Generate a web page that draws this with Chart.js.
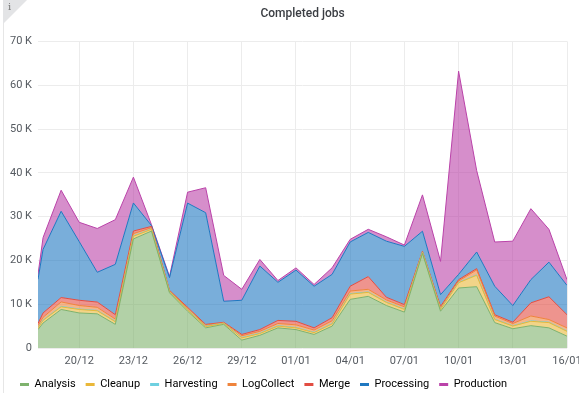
<!DOCTYPE html>
<html>
<head>
<meta charset="utf-8">
<title>Completed jobs</title>
<script src="https://cdn.jsdelivr.net/npm/chart.js@4.4.1/dist/chart.umd.min.js"></script>
<style>
  html, body { margin: 0; padding: 0; background: #fff; }
  .panel { position: relative; width: 579px; height: 393px; overflow: hidden; }
  .panel canvas { position: absolute; left: 0; top: 0; }
  .panel .edge { position: absolute; left: 3px; top: 0; bottom: 0; border-left: 1px solid #e6e6e6; }
  .panel .corner {
    position: absolute; left: 3px; top: 0; width: 0; height: 0;
    border-top: 24px solid #e3e4e6; border-right: 24px solid transparent;
  }
  .panel .corner span {
    position: absolute; left: 5px; top: -23px;
    font: 10px "DejaVu Serif", serif; color: #777;
  }
</style>
</head>
<body>
<div class="panel">
  <canvas id="jobsChart" width="579" height="393"></canvas>
  <div class="edge"></div>
  <div class="corner"><span>i</span></div>
</div>
<script>
// days after 20/12; the first sample is a partial day
const sampleDays = [-2.28, -2, -1, 0, 1, 2, 3, 4, 5, 6, 7, 8, 9, 10, 11, 12, 13,
  14, 15, 16, 17, 18, 19, 20, 21, 22, 23, 24, 25, 26, 27];

const tickDays = [0, 3, 6, 9, 12, 15, 18, 21, 24, 27];
const tickLabels = ["20/12", "23/12", "26/12", "29/12", "01/01", "04/01", "07/01", "10/01", "13/01", "16/01"];

const analysis = [4200, 5700, 8800, 8000, 7800, 5400, 24900, 26700, 12600, 8400, 4600,
  5400, 1800, 2900, 4600, 4200, 3100, 5000, 11100, 11800, 9700, 8200, 21600, 8400,
  13700, 14000, 5800, 4400, 5100, 4600, 2700];
const cleanup = [400, 600, 600, 800, 700, 600, 600, 400, 200, 300, 300,
  200, 500, 400, 400, 400, 400, 500, 1200, 900, 700, 600, 200, 400,
  1200, 2600, 700, 600, 1000, 1200, 1100];
const harvesting = [80, 100, 120, 100, 90, 100, 110, 60, 50, 80, 90,
  70, 100, 110, 100, 90, 100, 120, 110, 100, 90, 100, 60, 80,
  100, 120, 100, 90, 110, 100, 90];
const logCollect = [400, 600, 1000, 800, 700, 500, 500, 300, 200, 300, 200,
  100, 400, 400, 500, 600, 500, 600, 600, 600, 500, 500, 100, 300,
  300, 1100, 700, 500, 1100, 600, 700];
const merge = [500, 1000, 1000, 1200, 1200, 1000, 600, 300, 100, 200, 200,
  100, 300, 400, 700, 800, 500, 700, 1100, 2900, 600, 500, 100, 300,
  300, 300, 300, 300, 3000, 5200, 3000];
const processing = [10100, 14500, 19700, 13400, 6800, 11500, 6400, 200, 2900, 23800, 25500,
  4800, 7800, 14500, 8700, 11700, 9500, 9900, 10100, 10100, 12800, 13300, 4600, 2700,
  1200, 3800, 6500, 3800, 5300, 7900, 6700];
const production = [1100, 2700, 4800, 4400, 10000, 10200, 5900, 200, 300, 2500, 5700,
  5900, 2500, 1500, 400, 500, 400, 1500, 600, 700, 1000, 300, 8300, 7600,
  46400, 18600, 10100, 14700, 16200, 7500, 1300];

const series = [
  { label: "Analysis", color: "#7EB26D", values: analysis },
  { label: "Cleanup", color: "#EAB839", values: cleanup },
  { label: "Harvesting", color: "#6ED0E0", values: harvesting },
  { label: "LogCollect", color: "#EF843C", values: logCollect },
  { label: "Merge", color: "#E24D42", values: merge },
  { label: "Processing", color: "#1F78C1", values: processing },
  { label: "Production", color: "#BA43A9", values: production },
];

function fade(hex, a) {
  const n = parseInt(hex.slice(1), 16);
  return `rgba(${(n >> 16) & 255},${(n >> 8) & 255},${n & 255},${a})`;
}

Chart.defaults.font.family = "Roboto, 'Noto Sans', sans-serif";
Chart.defaults.font.size = 11;
Chart.defaults.color = "#555a60";

const datasets = series.map((s, i) => ({
  label: s.label,
  data: sampleDays.map((d, j) => ({ x: d, y: s.values[j] })),
  borderColor: s.color,
  backgroundColor: fade(s.color, 0.6),
  borderWidth: 1,
  pointRadius: 0,
  pointHoverRadius: 0,
  tension: 0,
  fill: i === 0 ? "origin" : "-1",
}));

const gridColor = "#ececec";

new Chart(document.getElementById("jobsChart"), {
  type: "line",
  data: { datasets },
  options: {
    responsive: false,
    animation: false,
    // legend sits a little lower than the default box allows
    layout: { padding: { left: 10, right: 12, top: 0, bottom: -7 } },
    plugins: {
      title: {
        display: true,
        fullSize: false, // centre over the plot area, not the whole canvas
        text: "Completed jobs",
        color: "#3a3d42",
        font: { size: 12, weight: "500" },
        padding: { top: 7, bottom: 20 },
      },
      legend: {
        position: "bottom",
        align: "start",
        labels: {
          boxWidth: 9,
          boxHeight: 3,
          padding: 10,
          color: "#52575d",
          generateLabels: (chart) =>
            chart.data.datasets.map((ds, i) => ({
              text: ds.label,
              fillStyle: ds.borderColor,
              strokeStyle: ds.borderColor,
              lineWidth: 0,
              datasetIndex: i,
            })),
        },
      },
      tooltip: { enabled: false },
    },
    scales: {
      x: {
        type: "linear",
        min: -2.28,
        max: 27,
        border: { display: false },
        grid: { color: gridColor, drawTicks: false },
        ticks: {
          padding: 7,
          autoSkip: false,
          maxRotation: 0,
          callback: (v, i) => tickLabels[i],
        },
        afterBuildTicks: (axis) => {
          axis.ticks = tickDays.map((v) => ({ value: v }));
        },
        afterFit: (axis) => {
          axis.paddingLeft = 0;
          axis.paddingRight = 0;
          axis.height = 21;
        },
      },
      y: {
        stacked: true,
        min: 0,
        max: 70000,
        border: { display: false },
        grid: { color: gridColor, drawTicks: false },
        ticks: {
          stepSize: 10000,
          padding: 6,
          callback: (v) => (v === 0 ? "0" : v / 1000 + " K"),
        },
        afterFit: (axis) => {
          axis.width = 28;
          axis.paddingTop = 0;
          axis.paddingBottom = 0;
        },
      },
    },
  },
});
</script>
</body>
</html>
